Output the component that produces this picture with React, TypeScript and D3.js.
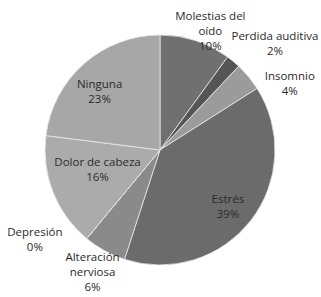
import React, { useEffect, useRef } from "react"
import * as d3 from "d3"

const categories = [
  "Molestias del oído",
  "Perdida auditiva",
  "Insomnio",
  "Estrés",
  "Alteración nerviosa",
  "Depresión",
  "Dolor de cabeza",
  "Ninguna",
]
const values = [10, 2, 4, 39, 6, 0, 16, 23]
const labelLines = [
  ["Molestias del", "oído", "10%"],
  ["Perdida auditiva", "2%"],
  ["Insomnio", "4%"],
  ["Estrés", "39%"],
  ["Alteración", "nerviosa", "6%"],
  ["Depresión", "0%"],
  ["Dolor de cabeza", "16%"],
  ["Ninguna", "23%"],
]
const colors = ["#707070", "#555555", "#9b9b9b", "#6b6b6b", "#8a8a8a", "#8a8a8a", "#ababab", "#a7a7a7"]

// label anchor: radius as share of pie radius, angle nudge from slice middle (degrees)
const labelLayout = [
  [1.12, 5],
  [1.36, 7.7],
  [1.27, 12.3],
  [0.77, 2.2],
  [1.21, 0.2],
  [1.34, 14.7],
  [0.57, 4],
  [0.73, -4.6],
]

export default function App() {
  const ref = useRef<SVGSVGElement>(null)

  useEffect(() => {
    const width = 321
    const height = 297
    const cx = 160
    const cy = 150
    const r = 115

    const svg = d3.select(ref.current)
    svg.selectAll("*").remove()
    svg.attr("width", width).attr("height", height)

    const g = svg.append("g").attr("transform", "translate(" + cx + "," + cy + ")")

    const data = categories.map((c, i) => ({ name: c, value: values[i], i }))
    const pie = d3
      .pie<any>()
      .sort(null)
      .value((d: any) => d.value)
    const arcs = pie(data)
    const arc = d3.arc<any>().innerRadius(0).outerRadius(r)

    g.selectAll("path.slice")
      .data(arcs)
      .enter()
      .append("path")
      .attr("class", "slice")
      .attr("d", arc as any)
      .attr("fill", (d: any) => colors[d.data.i])
      .attr("stroke", "#e8e8e8")
      .attr("stroke-width", 0.8)

    const lh = 15
    const labels = g
      .selectAll("g.lbl")
      .data(arcs)
      .enter()
      .append("g")
      .attr("class", "lbl")
      .attr("transform", (d: any) => {
        const [k, da] = labelLayout[d.data.i]
        const a = (d.startAngle + d.endAngle) / 2 + (da * Math.PI) / 180
        const rr = k * r
        return "translate(" + rr * Math.sin(a) + "," + -rr * Math.cos(a) + ")"
      })

    labels
      .selectAll("text")
      .data((d: any) => labelLines[d.data.i].map((t, j, arr) => ({ t, j, n: arr.length })))
      .enter()
      .append("text")
      .attr("text-anchor", "middle")
      .attr("y", (d: any) => (d.j - (d.n - 1) / 2) * lh + 4)
      .style("font-family", "'Open Sans', sans-serif")
      .style("font-size", "11.5px")
      .style("fill", "#2a2a2a")
      .text((d: any) => d.t)
  }, [])

  return (
    <div style={{ position: "absolute", left: 0, top: 0 }}>
      <svg ref={ref}></svg>
    </div>
  )
}
